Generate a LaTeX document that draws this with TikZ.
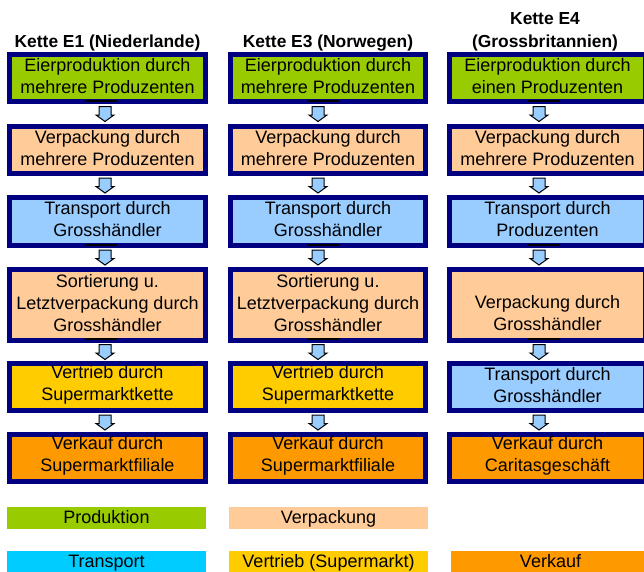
\documentclass[tikz,border=0pt]{standalone}
\usepackage{fontspec}
\setmainfont{Liberation Sans}
\usetikzlibrary{calc}
\definecolor{navyb}{HTML}{000080}
\definecolor{cgreen}{HTML}{99CC00}
\definecolor{cpeach}{HTML}{FFCC99}
\definecolor{cblue}{HTML}{99CCFF}
\definecolor{cyellow}{HTML}{FFCC00}
\definecolor{corange}{HTML}{FF9900}
\definecolor{ccyan}{HTML}{00CCFF}
\tikzset{
  stagebox/.style={draw=navyb, line width=5pt, minimum width=196pt, inner sep=0pt},
  stagetxt/.style={align=center, font=\fontsize{18}{22}\selectfont, text=black, inner sep=0pt},
  legendbox/.style={minimum width=199pt, minimum height=22pt, inner sep=0pt,
    text height=15pt, text depth=3.5pt,
    font=\fontsize{18}{22}\selectfont, text=black},
  titletext/.style={align=center, font=\bfseries\fontsize{17.4}{23}\selectfont, text=black},
  arrowshape/.style={draw=black, line width=1pt, fill=cblue, line join=miter},
  tickline/.style={draw=black, line width=1.5pt}
}
\newcommand\flowarrow[3]{%
  \path ($(#1.south)!0.5!(#2.north)$) ++(#3,0) coordinate (#1-#2-m);
  \draw[arrowshape] ([shift={(-6,-7.5)}]#1-#2-m) -- ++(12,0) -- ++(0,8.5) -- ++(3,0)
    -- ++(-9,6.5) -- ++(-9,-6.5) -- ++(3,0) -- cycle;}
\newcommand\bottomtick[3]{%
  \draw[tickline] ([shift={(#2-16,#3)}]#1.south) -- ++(32,0);}
% #1 name, #2 x, #3 y, #4 height, #5 width, #6 fill, #7 text
\newcommand\stage[7]{%
  \node[stagebox, fill=#6, minimum height=#4pt, minimum width=#5pt] (#1) at (#2,#3) {};
  \node[stagetxt] (#1t) at ([yshift=2pt]#1.center) {#7};}
\begin{document}
\begin{tikzpicture}[x=1pt,y=-1pt]
\clip (0,0) rectangle (644,571);
\fill[white] (0,0) rectangle (644,571);
% titles
\node[titletext] (t1) at (107.5,43) {Kette E1 (Niederlande)};
\node[titletext] (t2) at (328,43) {Kette E3 (Norwegen)};
\node[titletext] (t3) at (545,31.5) {Kette E4\\(Grossbritannien)};
% column 1
\stage{a1}{107.5}{78}{47}{196}{cgreen}{Eierproduktion durch\\mehrere Produzenten}
\stage{a2}{107.5}{150}{47}{196}{cpeach}{Verpackung durch\\mehrere Produzenten}
\stage{a3}{107.5}{221.5}{48}{196}{cblue}{Transport durch\\Grosshändler}
\stage{a4}{107.5}{305}{71}{196}{cpeach}{Sortierung u.\\Letztverpackung durch\\Grosshändler}
\stage{a5}{107.5}{387}{47}{196}{cyellow}{Vertrieb durch\\Supermarktkette}
\stage{a6}{107.5}{458}{47}{196}{corange}{Verkauf durch\\Supermarktfiliale}
% column 2
\stage{b1}{328}{78}{47}{195}{cgreen}{Eierproduktion durch\\mehrere Produzenten}
\stage{b2}{328}{150}{47}{195}{cpeach}{Verpackung durch\\mehrere Produzenten}
\stage{b3}{328}{221.5}{48}{195}{cblue}{Transport durch\\Grosshändler}
\stage{b4}{328}{305}{71}{195}{cpeach}{Sortierung u.\\Letztverpackung durch\\Grosshändler}
\stage{b5}{328}{387}{47}{195}{cyellow}{Vertrieb durch\\Supermarktkette}
\stage{b6}{328}{458}{47}{195}{corange}{Verkauf durch\\Supermarktfiliale}
% column 3
\stage{c1}{547.5}{78}{47}{196}{cgreen}{Eierproduktion durch\\einen Produzenten}
\stage{c2}{547.5}{150}{47}{196}{cpeach}{Verpackung durch\\mehrere Produzenten}
\stage{c3}{547.5}{221.5}{48}{196}{cblue}{Transport durch\\Produzenten}
\node[stagebox, fill=cpeach, minimum height=71pt] (c4) at (547.5,305) {};
\node[stagetxt] (c4t) at ([yshift=-8pt]c4.center) {Verpackung durch\\Grosshändler};
\stage{c5}{547.5}{387}{47}{196}{cblue}{Transport durch\\Grosshändler}
\stage{c6}{547.5}{458}{47}{196}{corange}{Verkauf durch\\Caritasgeschäft}
% small black ticks on bottom borders
\bottomtick{a1}{-6.5}{-3}
\bottomtick{b1}{-5.5}{-3}
\bottomtick{c1}{-4}{-3}
\bottomtick{a3}{-6.5}{-3}
\bottomtick{b3}{-5.5}{-3}
\bottomtick{c3}{-4}{-3}
\bottomtick{a4}{-6.5}{-4}
\bottomtick{b4}{-5.5}{-4}
\bottomtick{c4}{-4}{-4}
% arrows
\foreach \p/\q in {a1/a2,a2/a3,a3/a4,a4/a5,a5/a6}{\flowarrow{\p}{\q}{-2.5}}
\foreach \p/\q in {b1/b2,b2/b3,b3/b4,b4/b5,b5/b6}{\flowarrow{\p}{\q}{-10}}
\foreach \p/\q in {c1/c2,c2/c3,c3/c4,c4/c5,c5/c6}{\flowarrow{\p}{\q}{-8.5}}
% legend
\node[legendbox, fill=cgreen] (l1) at (106.5,518) {Produktion};
\node[legendbox, fill=cpeach] (l2) at (328.5,518) {Verpackung};
\node[legendbox, fill=ccyan] (l3) at (106.5,562) {Transport};
\node[legendbox, fill=cyellow] (l4) at (328.5,562) {Vertrieb (Supermarkt)};
\node[legendbox, fill=corange] (l5) at (550.5,562) {Verkauf};
\end{tikzpicture}
\end{document}
